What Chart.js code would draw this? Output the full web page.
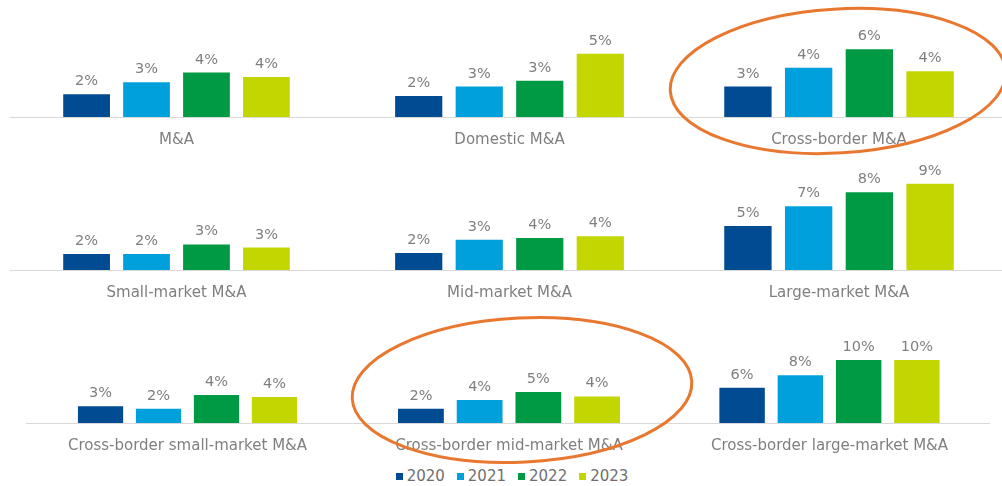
<!DOCTYPE html>
<html>
<head>
<meta charset="utf-8">
<script src="https://cdn.jsdelivr.net/npm/chart.js@4"></script>
<style>
body{margin:0;background:#fff;width:1002px;height:486px;position:relative;overflow:hidden;font-family:"DejaVu Sans",sans-serif}
canvas{position:absolute}
#legend{position:absolute;top:467px;left:0;width:1024px;display:flex;justify-content:center;font-size:15px;color:#6f6f6f;line-height:18px}
#legend span{display:flex;align-items:center;margin:0 6px}
#legend i{display:inline-block;width:7px;height:7px;margin-right:4px}
#marks{z-index:2;pointer-events:none}
</style>
</head>
<body>
<div id="legend"></div>
<canvas id="marks" width="1002" height="486"></canvas>
<script>
// datos
const categories = [
    "M&A", "Domestic M&A", "Cross-border M&A",
    "Small-market M&A", "Mid-market M&A", "Large-market M&A",
    "Cross-border small-market M&A", "Cross-border mid-market M&A", "Cross-border large-market M&A"
]
const years = ["2020", "2021", "2022", "2023"]
const values2020 = [2.1, 1.8, 2.6, 2.0, 1.9, 4.7, 2.6, 2.3, 5.7]
const values2021 = [3.2, 2.6, 4.2, 2.0, 3.4, 6.8, 2.2, 3.7, 7.7]
const values2022 = [4.1, 3.1, 5.8, 3.2, 3.6, 8.3, 4.3, 5.0, 10.2]
const values2023 = [3.7, 5.4, 3.9, 2.8, 3.8, 9.2, 4.0, 4.3, 10.2]
const axisMax = [10.8, 10, 10, 15, 13.5, 12.8, 18.5, 19.4, 19.4]

const series = [values2020, values2021, values2022, values2023]
const colors = ["#004B91", "#00A0DC", "#009944", "#C4D600"]

// donde va cada grafico (area del grafico en px)
const panels = [
    {left: 10, right: 343, top: 0, base: 117, cat: 0.72},
    {left: 343, right: 676, top: 0, base: 117, cat: 0.727},
    {left: 676, right: 1002, top: 0, base: 117, cat: 0.745},
    {left: 10, right: 343, top: 150, base: 270, cat: 0.72},
    {left: 343, right: 676, top: 150, base: 270, cat: 0.727},
    {left: 676, right: 1002, top: 150, base: 270, cat: 0.745},
    {left: 26, right: 349, top: 303, base: 423, cat: 0.718},
    {left: 349, right: 669, top: 303, base: 423, cat: 0.734},
    {left: 669, right: 990, top: 303, base: 423, cat: 0.726},
]

/* etiquetas encima de las barras */
const valueLabels = {
    id: "valueLabels",
    afterDatasetsDraw(chart) {
        const ctx = chart.ctx
        ctx.save()
        ctx.font = "14.5px 'DejaVu Sans'"
        ctx.fillStyle = "#7f7f7f"
        ctx.textAlign = "center"
        ctx.textBaseline = "alphabetic"
        chart.data.datasets.forEach((ds, i) => {
            chart.getDatasetMeta(i).data.forEach((bar, j) => {
                ctx.fillText(Math.round(ds.data[j]) + "%", bar.x, bar.y - 9)
            })
        })
        ctx.restore()
    }
}

panels.forEach((p, i) => {
    const canvas = document.createElement("canvas")
    canvas.width = p.right - p.left
    canvas.height = p.base - p.top + 40
    canvas.style.left = p.left + "px"
    canvas.style.top = p.top + "px"
    document.body.appendChild(canvas)

    new Chart(canvas.getContext("2d"), {
        type: "bar",
        data: {
            labels: [categories[i]],
            datasets: years.map((y, k) => ({
                label: y,
                data: [series[k][i]],
                backgroundColor: colors[k],
                barPercentage: 0.78,
                categoryPercentage: p.cat,
            })),
        },
        options: {
            responsive: false,
            animation: false,
            devicePixelRatio: 1,
            layout: {padding: 0},
            plugins: {legend: {display: false}, tooltip: {enabled: false}},
            scales: {
                x: {
                    grid: {display: false, drawTicks: false},
                    border: {color: "#d9d9d9"},
                    ticks: {color: "#7f7f7f", font: {family: "DejaVu Sans", size: 15}, padding: 14},
                    afterFit: (axis) => { axis.height = 40 },
                },
                y: {display: false, min: 0, max: axisMax[i]},
            },
        },
        plugins: [valueLabels],
    })
})

/* leyenda */
const legend = document.querySelector("#legend")
years.forEach((y, k) => {
    const item = document.createElement("span")
    item.innerHTML = '<i style="background:' + colors[k] + '"></i>' + y
    legend.appendChild(item)
})

/* circulos naranjas */
const mk = document.querySelector("#marks").getContext("2d")
mk.strokeStyle = "#E8782F"
mk.lineWidth = 3
mk.beginPath()
mk.ellipse(838, 81, 168, 72, -0.06, 0, Math.PI * 2)
mk.stroke()
mk.beginPath()
mk.ellipse(522, 390, 170, 72, -0.05, 0, Math.PI * 2)
mk.stroke()
</script>
</body>
</html>
